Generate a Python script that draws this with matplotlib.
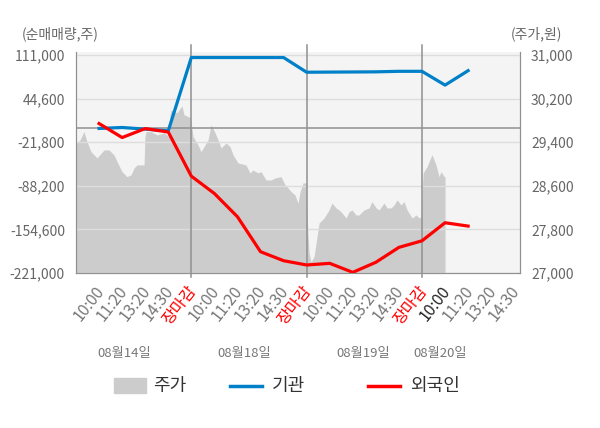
import matplotlib.pyplot as plt
import matplotlib.patches as mpatches

plt.rcParams['font.family'] = ['Noto Sans CJK KR', 'DejaVu Sans']

# x positions in "days" (0 = start of 08/14 session)
line_x = [0.2, 0.4, 0.6, 0.8, 1.0, 1.2, 1.4, 1.6, 1.8, 2.0, 2.2, 2.4, 2.6, 2.8, 3.0, 3.2, 3.4]
inst = [-1000, 500, -2000, -4600, 107000, 107000, 107000, 107000, 107000,
        84600, 84800, 85000, 85200, 86000, 86000, 65000, 87000]
foreign = [6500, -14800, -1200, -6400, -73600, -100000, -135400, -188600, -202300,
           -208800, -206300, -220000, -204700, -182000, -172000, -144500, -149600]

price_x = [0, .035, .069, .095, .130, .182, .243, .286, .330, .356, .399, .442, .477, .503,
           .529, .590, .598, .607, .650, .703, .763, .807, .815, .824, .876, .919, .937,
           .971, .989,
           .997, 1.015, 1.058, 1.084, 1.119, 1.145, 1.171, 1.206, 1.232, 1.258, 1.301,
           1.336, 1.362, 1.405, 1.474, 1.509, 1.535, 1.578, 1.604, 1.648, 1.691, 1.726,
           1.778, 1.813, 1.839, 1.865, 1.899, 1.925, 1.943, 1.969, 1.995,
           2.003, 2.021, 2.038, 2.064, 2.090, 2.108, 2.151, 2.194, 2.220, 2.255, 2.281,
           2.307, 2.342, 2.368, 2.394, 2.428, 2.454, 2.498, 2.541, 2.567, 2.602, 2.628,
           2.671, 2.697, 2.732, 2.758, 2.784, 2.819, 2.845, 2.871, 2.914, 2.949, 2.975,
           2.992,
           3.010, 3.044, 3.079, 3.088, 3.122, 3.148, 3.166, 3.192, 3.200]
price = [29380, 29440, 29593, 29410, 29226, 29110, 29257, 29257, 29165, 29043, 28860, 28767,
         28800, 28927, 28982, 28982, 29500, 29593, 29593, 29532, 29570, 29500, 29900, 29990,
         29940, 30064, 29900, 29870, 29850,
         29800, 29500, 29350, 29226, 29350, 29440, 29716, 29570, 29440, 29294, 29385,
         29318, 29165, 29018, 28982, 28835, 28890, 28835, 28860, 28706, 28706, 28743,
         28767, 28615, 28560, 28492, 28431, 28279, 28492, 28652, 28652,
         28033, 27367, 27207, 27300, 27666, 27917, 28009, 28156, 28284, 28193, 28156,
         28101, 28009, 28125, 28156, 28064, 28064, 28156, 28193, 28309, 28193, 28156,
         28284, 28193, 28193, 28248, 28340, 28248, 28309, 28156, 28009, 28064, 28009,
         28033,
         28835, 28950, 29134, 29165, 28982, 28767, 28860, 28767, 28767]

left_ticks = [111000, 44600, -21800, -88200, -154600, -221000]
right_ticks = [31000, 30200, 29400, 28600, 27800, 27000]
time_labels = ['10:00', '11:20', '13:20', '14:30', '장마감'] * 3 + ['10:00', '11:20', '13:20', '14:30']
dates = ['08월14일', '08월18일', '08월19일', '08월20일']
date_pos = [0.42, 1.46, 2.49, 3.16]

fig = plt.figure(figsize=(6, 4.28), dpi=100)
ax2 = fig.add_axes([76 / 600, 1 - 273 / 428, 444 / 600, 221 / 428])
ax = ax2.twinx()
ax.set_zorder(ax2.get_zorder() + 1)
ax.patch.set_visible(False)
ax2.set_facecolor('#f4f4f4')

# price area (right axis)
ax2.fill_between(price_x, 27000, price, color='#cccccc', lw=0)
ax2.set_ylim(27000, 31053)
ax2.set_xlim(0, 3.85)

# net buy lines (left axis)
ax.plot(line_x, inst, color='#0080c8', lw=2.3)
ax.plot(line_x, foreign, color='#ff0000', lw=2.3)
ax.set_ylim(-221000, 115400)
ax.set_xlim(0, 3.85)
for v in left_ticks:
    ax.axhline(v, color='#dddddd', lw=1, zorder=0.5)
ax.axhline(0, color='#909090', lw=1.1, zorder=0.6)
for d in [1, 2, 3]:
    ax.plot([d, d], [-0.02, 1.03], color='#909090', lw=1.1,
            transform=ax.get_xaxis_transform(), clip_on=False, zorder=0.7)

# swap sides: volumes on the left, price on the right
ax.yaxis.tick_left()
ax2.yaxis.tick_right()
ax.set_yticks(left_ticks)
ax.set_yticklabels([f'{v:,}' for v in left_ticks])
ax2.set_yticks(right_ticks)
ax2.set_yticklabels([f'{v:,}' for v in right_ticks])
for a in (ax, ax2):
    a.tick_params(axis='y', length=0, pad=8, labelsize=10, labelcolor='#666666')
    for s in a.spines.values():
        s.set_color('#909090')
    a.spines['top'].set_visible(False)

ax2.set_xticks([1, 2, 3, 3.85])
ax2.set_xticklabels([])
ax2.tick_params(axis='x', length=5, color='#909090')
ax.set_xticks([])

for i, lab in enumerate(time_labels):
    x = 0.2 * (i + 1)
    col = '#ff0000' if lab == '장마감' else '#777777'
    if i == 15:
        col = '#222222'
    ax.text(x + 0.075, -0.045, lab, transform=ax.get_xaxis_transform(), rotation=52,
            ha='right', va='top', fontsize=11.5, color=col)

for lab, p in zip(dates, date_pos):
    fig.text((76 + p * 115.3) / 600, 1 - 353 / 428, lab, fontsize=9.5, color='#777777',
             ha='center', va='center')

fig.text(22 / 600, 1 - 34 / 428, '(순매매량,주)', fontsize=10, color='#666666', va='center')
fig.text(562 / 600, 1 - 34 / 428, '(주가,원)', fontsize=10, color='#666666', va='center', ha='right')

# legend
fig.patches.append(mpatches.Rectangle((114 / 600, 1 - 393 / 428), 32 / 600, 15 / 428,
                                      transform=fig.transFigure, color='#cccccc'))
fig.text(153 / 600, 1 - 386 / 428, '주가', fontsize=13, color='#333333', va='center')
fig.add_artist(plt.Line2D([230 / 600, 262 / 600], [1 - 386 / 428] * 2, color='#0080c8', lw=2.5))
fig.text(272 / 600, 1 - 386 / 428, '기관', fontsize=13, color='#333333', va='center')
fig.add_artist(plt.Line2D([368 / 600, 400 / 600], [1 - 386 / 428] * 2, color='#ff0000', lw=2.5))
fig.text(410 / 600, 1 - 386 / 428, '외국인', fontsize=13, color='#333333', va='center')

fig.savefig('out.png', dpi=100)
